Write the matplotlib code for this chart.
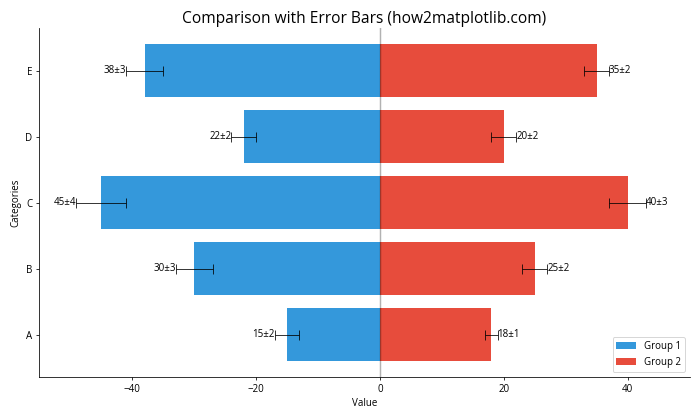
import numpy as np
import matplotlib.pyplot as plt

plt.rcParams['font.family'] = ['Open Sans', 'DejaVu Sans']

categories = ['A', 'B', 'C', 'D', 'E']
group1 = [15, 30, 45, 22, 38]
group1_err = [2, 3, 4, 2, 3]
group2 = [18, 25, 40, 20, 35]
group2_err = [1, 2, 3, 2, 2]

y = np.arange(len(categories))
left = -np.array(group1)
right = np.array(group2)

fig, ax = plt.subplots(figsize=(10, 6), dpi=70)

ax.barh(y, left, xerr=group1_err, capsize=5, color='#3498db', label='Group 1',
        error_kw=dict(ecolor='black', elinewidth=1, alpha=0.8))
ax.barh(y, right, xerr=group2_err, capsize=5, color='#e74c3c', label='Group 2',
        error_kw=dict(ecolor='black', elinewidth=1, alpha=0.8))

ax.axvline(0, color='black', alpha=0.3, linewidth=1.5)

# value labels beyond the error bars
for i in range(len(categories)):
    ax.text(left[i] - group1_err[i], y[i], f'{group1[i]}±{group1_err[i]}',
            ha='right', va='center', fontsize=10)
    ax.text(right[i] + group2_err[i], y[i], f'{group2[i]}±{group2_err[i]}',
            ha='left', va='center', fontsize=10)

ax.set_yticks(y)
ax.set_yticklabels(categories)
ax.set_xlim(-55, 50)
ax.set_xlabel('Value')
ax.set_ylabel('Categories')
ax.set_title('Comparison with Error Bars (how2matplotlib.com)', fontsize=16)
ax.spines['top'].set_visible(False)
ax.spines['right'].set_visible(False)
ax.legend(loc='lower right')

plt.tight_layout()
plt.savefig('out.png')
